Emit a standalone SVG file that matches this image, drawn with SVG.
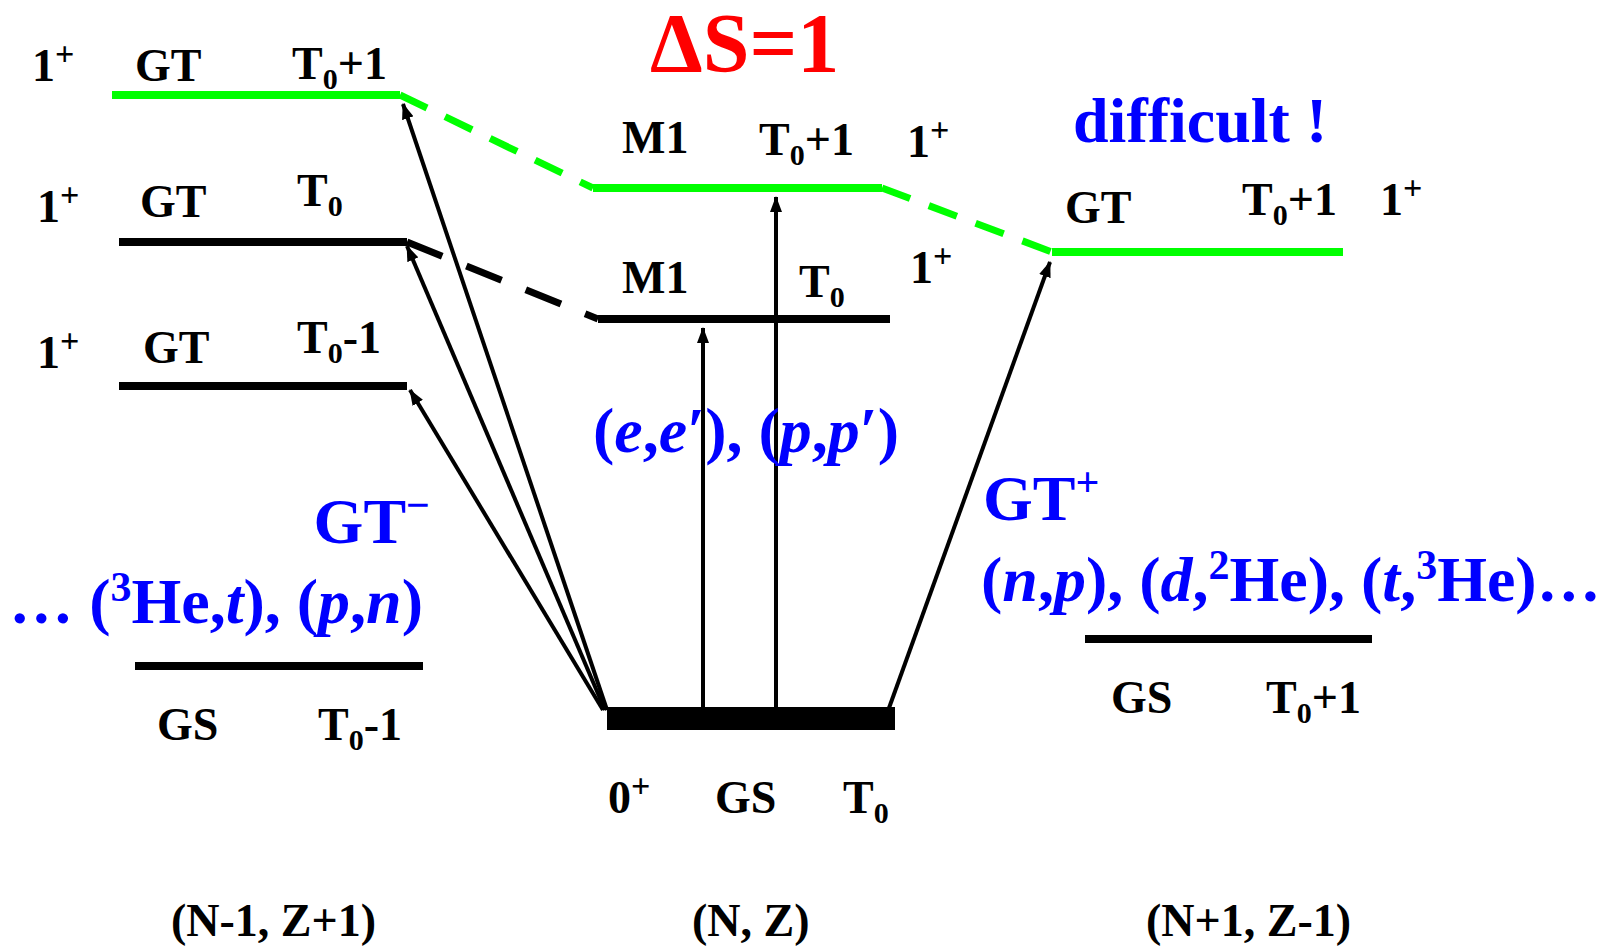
<svg xmlns="http://www.w3.org/2000/svg" width="1605" height="947" viewBox="0 0 1605 947">
<style>
text{font-family:"Liberation Serif","Times New Roman",serif;font-weight:bold}
.k{font-size:46px;fill:#000}
.b{fill:#0000ff;font-size:64px}
.sub{font-size:30px}
.sup{font-size:34px}
.bsup{font-size:42px}
.i{font-style:italic}
.lvl{stroke:#000;stroke-width:8;fill:none}
.grn{stroke:#00ff00;stroke-width:8;fill:none}
.dg{stroke:#00ff00;stroke-width:7;stroke-dasharray:30 20;fill:none}
.dk{stroke:#000;stroke-width:7;stroke-dasharray:38 26;fill:none}
.arr{stroke:#000;stroke-width:4;fill:none;marker-end:url(#ah)}
</style>
<defs>
<marker id="ah" viewBox="0 0 16 12" refX="15" refY="6" markerWidth="16" markerHeight="12" markerUnits="userSpaceOnUse" orient="auto">
<path d="M0,0 L16,6 L0,12 Z" fill="#000"/>
</marker>
</defs>
<rect width="1605" height="947" fill="#fff"/>

<g id="title"><text x="650" y="72" font-size="84" fill="#ff0000">ΔS=1</text></g>

<g id="left-gt-t0p1">
<line class="grn" x1="112" y1="95" x2="400" y2="95"/>
<text class="k" x="32" y="81">1<tspan class="sup" dy="-16">+</tspan></text>
<text class="k" x="135" y="81">GT</text>
<text class="k" x="292" y="79">T<tspan class="sub" dy="10">0</tspan><tspan dy="-10">+1</tspan></text>
</g>
<g id="left-gt-t0">
<line class="lvl" x1="119" y1="242" x2="407" y2="242"/>
<text class="k" x="37" y="222">1<tspan class="sup" dy="-16">+</tspan></text>
<text class="k" x="140" y="217">GT</text>
<text class="k" x="297" y="206">T<tspan class="sub" dy="10">0</tspan></text>
</g>
<g id="left-gt-t0m1">
<line class="lvl" x1="119" y1="386" x2="407" y2="386"/>
<text class="k" x="37" y="368">1<tspan class="sup" dy="-16">+</tspan></text>
<text class="k" x="143" y="363">GT</text>
<text class="k" x="297" y="353">T<tspan class="sub" dy="10">0</tspan><tspan dy="-10">-1</tspan></text>
</g>
<g id="left-gs">
<text class="b" x="430" y="543" text-anchor="end" font-size="60">GT<tspan class="bsup" dy="-24">−</tspan></text>
<text class="b" x="423" y="623" text-anchor="end">… (<tspan class="bsup" dy="-22">3</tspan><tspan dy="22">He,</tspan><tspan class="i">t</tspan>), (<tspan class="i">p</tspan>,<tspan class="i">n</tspan>)</text>
<line class="lvl" x1="135" y1="666" x2="423" y2="666"/>
<text class="k" x="157" y="740">GS</text>
<text class="k" x="318" y="740">T<tspan class="sub" dy="10">0</tspan><tspan dy="-10">-1</tspan></text>
<text class="k" x="171" y="936" font-size="52">(N-1, Z+1)</text>
</g>

<g id="mid-m1-t0p1">
<line class="grn" x1="593" y1="188" x2="882" y2="188"/>
<text class="k" x="622" y="153">M1</text>
<text class="k" x="759" y="155">T<tspan class="sub" dy="10">0</tspan><tspan dy="-10">+1</tspan></text>
<text class="k" x="907" y="157">1<tspan class="sup" dy="-16">+</tspan></text>
</g>
<g id="mid-m1-t0">
<line class="lvl" x1="598" y1="319" x2="890" y2="319"/>
<text class="k" x="622" y="293">M1</text>
<text class="k" x="799" y="297">T<tspan class="sub" dy="10">0</tspan></text>
<text class="k" x="910" y="283">1<tspan class="sup" dy="-16">+</tspan></text>
</g>
<g id="mid-gs">
<rect x="607" y="707" width="288" height="23" fill="#000"/>
<text class="k" x="608" y="813">0<tspan class="sup" dy="-16">+</tspan></text>
<text class="k" x="715" y="813">GS</text>
<text class="k" x="843" y="813">T<tspan class="sub" dy="10">0</tspan></text>
<text class="k" x="692" y="936" font-size="50">(N, Z)</text>
</g>

<g id="right-gt">
<text class="b" x="1073" y="142" font-size="65">difficult !</text>
<line class="grn" x1="1052" y1="252" x2="1343" y2="252"/>
<text class="k" x="1065" y="223">GT</text>
<text class="k" x="1242" y="215">T<tspan class="sub" dy="10">0</tspan><tspan dy="-10">+1</tspan></text>
<text class="k" x="1380" y="215">1<tspan class="sup" dy="-16">+</tspan></text>
</g>
<g id="right-gs">
<text class="b" x="983" y="520" font-size="60">GT<tspan class="bsup" dy="-24">+</tspan></text>
<text class="b" x="981" y="601">(<tspan class="i">n</tspan>,<tspan class="i">p</tspan>), (<tspan class="i">d</tspan>,<tspan class="bsup" dy="-22">2</tspan><tspan dy="22">He), (</tspan><tspan class="i">t</tspan>,<tspan class="bsup" dy="-22">3</tspan><tspan dy="22">He)…</tspan></text>
<line class="lvl" x1="1085" y1="639" x2="1372" y2="639"/>
<text class="k" x="1111" y="713">GS</text>
<text class="k" x="1266" y="713">T<tspan class="sub" dy="10">0</tspan><tspan dy="-10">+1</tspan></text>
<text class="k" x="1146" y="936" font-size="52">(N+1, Z-1)</text>
</g>

<g id="connectors">
<line class="dg" x1="400" y1="95" x2="593" y2="188"/>
<line class="dg" x1="882" y1="188" x2="1052" y2="252"/>
<line class="dk" x1="407" y1="242" x2="598" y2="319"/>
<line class="arr" x1="607" y1="710" x2="403" y2="104"/>
<line class="arr" x1="605" y1="710" x2="407" y2="246"/>
<line class="arr" x1="603" y1="710" x2="410" y2="390"/>
<line class="arr" x1="889" y1="708" x2="1050" y2="262"/>
<line class="arr" x1="703" y1="708" x2="703" y2="328"/>
<line class="arr" x1="776" y1="708" x2="776" y2="197"/>
</g>
<g id="label-ee"><text class="b" x="593" y="452">(<tspan class="i">e</tspan>,<tspan class="i">e</tspan>′), (<tspan class="i">p</tspan>,<tspan class="i">p</tspan>′)</text></g>
</svg>
